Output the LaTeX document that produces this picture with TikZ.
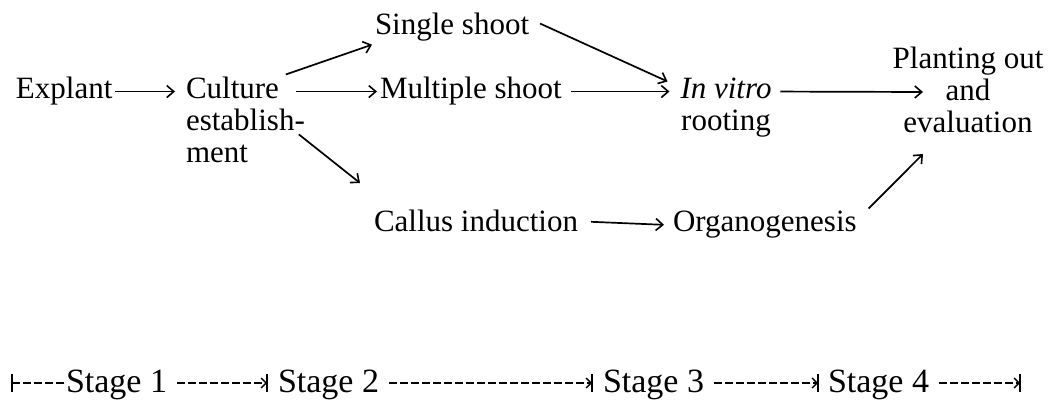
\documentclass[tikz,border=0pt]{standalone}
\usepackage{fontspec}
\setmainfont{Liberation Serif}
\usetikzlibrary{arrows.meta,calc}
\begin{document}
\begin{tikzpicture}[x=1pt,y=-1pt,
  txt/.style={inner sep=0pt,outer sep=3pt,font=\fontsize{31}{32}\selectfont},
  stxt/.style={inner sep=0pt,outer sep=2pt,font=\fontsize{34}{36}\selectfont},
  arr/.style={line width=1.7pt,-{Straight Barb[length=7pt,width=12pt,line width=1.6pt]}},
  stg/.style={line width=1.5pt,dash pattern=on 8pt off 3pt},
  stgarr/.style={stg,-{Straight Barb[length=5pt,width=10pt,line width=1.4pt]}},
  bar/.style={line width=1.4pt}
]
\useasboundingbox (0,0) rectangle (1060,403);

% nodes (for multi-line nodes the base anchor is the last line's baseline)
\node[txt,anchor=base west] (explant) at (13,99) {Explant};
\node[txt,anchor=base west,align=left] (culture) at (183,163) {Culture\\establish-\\ment};
\node[txt,anchor=base west] (single) at (372,35) {Single shoot};
\node[txt,anchor=base west] (multiple) at (377,99) {Multiple shoot};
\node[txt,anchor=base,align=center] (invitro) at (726,131) {\textit{In vitro}\\rooting};
\node[txt,anchor=base,align=center] (plant) at (968,133) {Planting out\\and\\evaluation};
\node[txt,anchor=base west] (callus) at (371,232) {Callus induction};
\node[txt,anchor=base west] (organ) at (670,232) {Organogenesis};

% free ends
\coordinate (cend) at (360,183);
\coordinate (pin) at (923,92);
\coordinate (pbot) at (923,154);

% connectors
\draw[arr,shorten >=8pt] (explant.east) -- (explant.east -| culture.west);
\draw[arr] ($(culture.north east)+(-22,0)$) -- (single.south west);
\draw[arr] ($(culture.east |- multiple.west)+(-12,0)$) -- (multiple.west);
\draw[arr] ($(culture.east)+(-9,14)$) -- (cend);
\draw[arr] ($(single.east)+(8,-4)$) -- ($(invitro.north west)+(-10,6)$);
\draw[arr,shorten <=6pt,shorten >=8pt] (multiple.east) -- (multiple.east -| invitro.west);
\draw[arr,shorten <=6pt] (invitro.east |- multiple.east) -- (pin);
\draw[arr,shorten <=10pt,shorten >=6pt] (callus.east) -- (organ.west);
\draw[arr] ($(organ.north east)+(9,0)$) -- (pbot);

% stage line
\coordinate (m0) at (12,383);
\coordinate (m1) at (267,383);
\coordinate (m2) at (592,383);
\coordinate (m3) at (818,383);
\coordinate (m4) at (1020,383);
\node[stxt,anchor=base west] (s1) at (64,392) {Stage 1};
\node[stxt,anchor=base west] (s2) at (276,392) {Stage 2};
\node[stxt,anchor=base west] (s3) at (601,392) {Stage 3};
\node[stxt,anchor=base west] (s4) at (826,392) {Stage 4};
\draw[stg] (m0) -- (m0 -| s1.west);
\draw[stgarr,shorten <=8pt] (s1.east |- m1) -- (m1);
\draw[stgarr,shorten <=8pt] (s2.east |- m2) -- (m2);
\draw[stgarr,shorten <=8pt] (s3.east |- m3) -- (m3);
\draw[stgarr,shorten <=8pt] (s4.east |- m4) -- (m4);
\foreach \m in {m0,m1,m2,m3,m4}
  \draw[bar] ($(\m)+(0,-9)$) -- ($(\m)+(0,9)$);
\end{tikzpicture}
\end{document}
